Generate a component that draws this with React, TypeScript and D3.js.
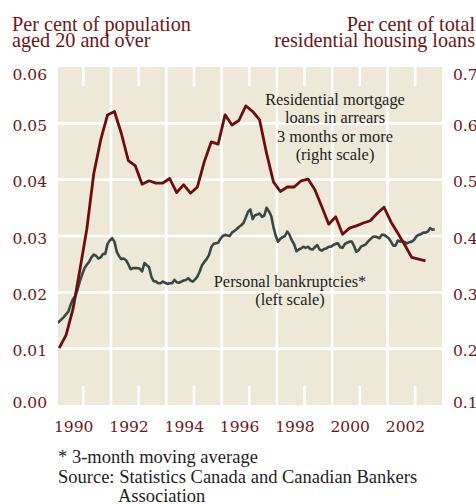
import React from "react";
import * as d3 from "d3";

// monthly, Jan 1990 onward, per cent of population aged 20+ (3-month moving average)
const bankruptcies = [
  0.0145, 0.0148, 0.0152, 0.0156, 0.0161, 0.0166, 0.0178, 0.0188, 0.0193, 0.0205, 0.022, 0.0232,
  0.0243, 0.0249, 0.0254, 0.0262, 0.0267, 0.0265, 0.026, 0.0262, 0.0268, 0.0268, 0.0286, 0.0292,
  0.0296, 0.029, 0.0272, 0.0264, 0.0259, 0.026, 0.0257, 0.025, 0.0241, 0.0243, 0.0243, 0.0243,
  0.0242, 0.0237, 0.0252, 0.0248, 0.0245, 0.0228, 0.022, 0.0219, 0.0216, 0.0216, 0.0219, 0.0217,
  0.0215, 0.0216, 0.0216, 0.0222, 0.0218, 0.0217, 0.0219, 0.0221, 0.0222, 0.0225, 0.0221, 0.0219,
  0.0223, 0.0228, 0.0237, 0.0248, 0.0254, 0.0259, 0.0266, 0.028, 0.0286, 0.0287, 0.0288, 0.0295,
  0.03, 0.0302, 0.0301, 0.03, 0.0306, 0.0309, 0.0312, 0.0316, 0.0319, 0.0323, 0.0333, 0.0343,
  0.0347, 0.033, 0.0337, 0.0338, 0.034, 0.0334, 0.0336, 0.035, 0.0344, 0.0336, 0.0316, 0.03,
  0.029, 0.0295, 0.0298, 0.03, 0.0308, 0.0302, 0.0292, 0.0285, 0.0273, 0.0276, 0.0278, 0.0281,
  0.0279, 0.0281, 0.0277, 0.0276, 0.028, 0.0284, 0.0276, 0.0274, 0.0277, 0.0278, 0.0281, 0.0281,
  0.0284, 0.0286, 0.0287, 0.028, 0.0279, 0.0286, 0.0288, 0.029, 0.029, 0.0282, 0.0272, 0.0275,
  0.0281, 0.0283, 0.0285, 0.029, 0.0294, 0.0298, 0.0299, 0.0298, 0.0296, 0.0302, 0.0302, 0.0299,
  0.0296, 0.029, 0.0283, 0.0283, 0.0292, 0.029, 0.0291, 0.0289, 0.0287, 0.0289, 0.029, 0.0293,
  0.0299, 0.0302, 0.0303, 0.0306, 0.0306, 0.0308, 0.0314, 0.0311, 0.0312,
];

// quarterly, 1990Q1 onward, per cent of total residential housing loans
const arrears = [
  0.201, 0.224, 0.27, 0.34,
  0.412, 0.51, 0.57, 0.615,
  0.621, 0.582, 0.534, 0.525,
  0.492, 0.498, 0.494, 0.494,
  0.502, 0.477, 0.491, 0.476,
  0.487, 0.532, 0.567, 0.563,
  0.615, 0.597, 0.605, 0.631,
  0.621, 0.606, 0.547, 0.496,
  0.479, 0.487, 0.487, 0.498,
  0.501, 0.482, 0.452, 0.421,
  0.434, 0.403, 0.414, 0.418,
  0.423, 0.427, 0.44, 0.451,
  0.425, 0.405, 0.384, 0.362,
  0.359, 0.356,
];

const yearLabels = [1990, 1992, 1994, 1996, 1998, 2000, 2002];
const gridYears = [1992, 1994, 1996, 1998, 2000, 2002];
const tickYears = [1991, 1993, 1995, 1997, 1999, 2001, 2003];
const leftTicks = [0, 0.01, 0.02, 0.03, 0.04, 0.05, 0.06];
const rightTicks = [0.1, 0.2, 0.3, 0.4, 0.5, 0.6, 0.7];

const W = 476,
  H = 504;
const plot = { left: 58, right: 442, top: 67, bottom: 405 };
const red = "#6c0d10";
const slate = "#384843";
const labelRed = "#6e161a";
const serif = "'Liberation Serif', serif";
const numFont = "'DejaVu Serif', serif";

export default function App() {
  const x = d3.scaleLinear().domain([1990, 2004]).range([55.7, 442.8]);
  const yL = d3.scaleLinear().domain([0, 0.06]).range([plot.bottom, plot.top]);
  const yR = d3.scaleLinear().domain([0.1, 0.7]).range([plot.bottom, plot.top]);

  const bankLine = d3
    .line<number>()
    .x((d, i) => x(1990 + (i + 0.5) / 12))
    .y((d) => yL(d));
  const arrearsLine = d3
    .line<number>()
    .x((d, i) => x(1990 + (i + 0.5) / 4))
    .y((d) => yR(d));

  // tick labels at the ends are nudged inward, the others sit just under the line
  const labelY = (v: number) => {
    const y = yL(v) + 7.5;
    return Math.min(Math.max(y, plot.top + 13), plot.bottom + 3);
  };

  return (
    <svg
      width={W}
      height={H}
      style={{ position: "absolute", left: 0, top: 0, background: "#fff" }}
    >
      <defs>
        <clipPath id="plotclip">
          <rect x={plot.left} y={plot.top} width={plot.right - plot.left} height={plot.bottom - plot.top} />
        </clipPath>
      </defs>

      <text fill={labelRed} fontFamily={serif} fontSize={20.2}>
        <tspan x={12} y={30.5}>Per cent of population</tspan>
        <tspan x={12} y={46.8}>aged 20 and over</tspan>
      </text>
      <text fill={labelRed} fontFamily={serif} fontSize={20.2} textAnchor="end">
        <tspan x={475} y={30.5}>Per cent of total</tspan>
        <tspan x={475} y={46.8}>residential housing loans</tspan>
      </text>

      <rect
        x={plot.left}
        y={plot.top}
        width={plot.right - plot.left}
        height={plot.bottom - plot.top}
        fill="#ede8d7"
      />

      <g clipPath="url(#plotclip)" stroke="#fff" strokeWidth={2.6}>
        {leftTicks.slice(1, -1).map((v) => (
          <line key={"h" + v} x1={plot.left} x2={plot.right} y1={yL(v)} y2={yL(v)} />
        ))}
        {gridYears.map((yr) => (
          <line key={"v" + yr} x1={x(yr)} x2={x(yr)} y1={plot.top} y2={plot.bottom} />
        ))}
        {tickYears.map((yr) => (
          <g key={"t" + yr}>
            <line x1={x(yr)} x2={x(yr)} y1={plot.top} y2={plot.top + 19} />
            <line x1={x(yr)} x2={x(yr)} y1={plot.bottom - 19} y2={plot.bottom} />
          </g>
        ))}
      </g>

      <g clipPath="url(#plotclip)" fill="none" strokeLinejoin="round">
        <path d={bankLine(bankruptcies) || ""} stroke={slate} strokeWidth={2.6} />
        <path d={arrearsLine(arrears) || ""} stroke={red} strokeWidth={2.8} />
      </g>

      <g fontFamily={serif} fontSize={16.4} fill="#1e1e1e" textAnchor="middle">
        <text x={335} y={105}>Residential mortgage</text>
        <text x={335} y={123.3}>loans in arrears</text>
        <text x={335} y={141.7}>3 months or more</text>
        <text x={335} y={160}>(right scale)</text>
        <text x={290} y={286.7}>Personal bankruptcies*</text>
        <text x={290} y={305}>(left scale)</text>
      </g>

      <g fontFamily={numFont} fontSize={15.5} fill={labelRed}>
        {leftTicks.map((v) => (
          <text key={"l" + v} x={47} y={labelY(v)} textAnchor="end">
            {v.toFixed(2)}
          </text>
        ))}
        {rightTicks.map((v, i) => (
          <text key={"r" + v} x={453} y={labelY(leftTicks[i])} textAnchor="start">
            {v.toFixed(1)}
          </text>
        ))}
        {yearLabels.map((yr) => (
          <text key={"x" + yr} x={x(yr) + 18} y={432} textAnchor="middle">
            {yr}
          </text>
        ))}
      </g>

      <g fontFamily={serif} fontSize={18.5} fill="#1e1e1e">
        <text x={58} y={463}>* 3-month moving average</text>
        <text x={58} y={483}>Source: Statistics Canada and Canadian Bankers</text>
        <text x={118} y={502}>Association</text>
      </g>
    </svg>
  );
}
